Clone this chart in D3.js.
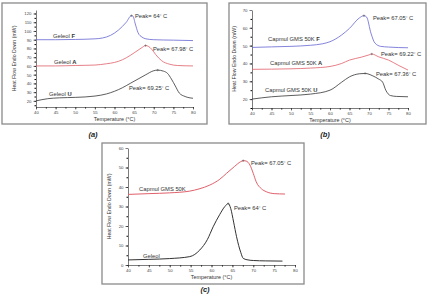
<!DOCTYPE html>
<html>
<head>
<meta charset="utf-8">
<script src="https://cdn.jsdelivr.net/npm/d3@7"></script>
<style>
  body { margin: 0; background: #fff; }
  text { font-family: "Liberation Sans", Arial, sans-serif; fill: #333; }
</style>
</head>
<body>
<script>
// ---- data ----
// panel (a): Geleol
var geleolF_t = [40, 45, 50, 55, 57, 59, 61, 63, 64.3, 64.7, 65.3, 66, 67, 68, 70, 75, 80];
var geleolF_v = [90, 90, 90.3, 91, 92, 95, 101, 110, 117.5, 117, 108, 98, 93, 91, 90, 89.5, 89];
var geleolA_t = [40, 45, 50, 55, 58, 60, 62, 64, 66, 67, 67.9, 68.6, 69.5, 70.5, 72, 74, 76, 80];
var geleolA_v = [60, 60, 60.5, 61, 62.5, 64, 67, 72, 78, 81, 83.3, 82.5, 79, 73, 66, 62, 60.5, 60];
var geleolU_t = [40, 43, 46, 50, 55, 58, 60, 62, 64, 66, 68, 70, 71, 72.5, 73.5, 74.5, 75.5, 76.5, 78, 80];
var geleolU_v = [20, 22.5, 23.5, 24, 25.5, 28, 31, 35, 40, 45, 50, 54.5, 55.2, 54, 51.5, 45, 37, 29, 25, 23];

// panel (b): Capmul GMS 50K
var capF_t = [40, 45, 50, 55, 58, 60, 63, 65, 67.5, 68.7, 69.4, 70.5, 71.5, 73, 75, 80];
var capF_v = [49, 49.3, 49.6, 50.2, 51, 52.2, 56, 59.7, 65.5, 66.8, 66, 57, 51.5, 49.6, 49.2, 48.8];
var capA_t = [40, 45, 50, 55, 60, 63, 65, 68, 70, 70.7, 72.5, 75, 77.5, 80];
var capA_v = [36.7, 36.8, 37, 37.4, 38.3, 40, 41.9, 43.5, 44.8, 45.3, 43.7, 41.9, 39, 36.3];
var capU_t = [40, 45, 50, 55, 60, 63, 65, 67.5, 69, 71, 72.5, 73.5, 74.3, 75.5, 77, 80];
var capU_v = [20, 21.3, 22, 22.8, 25, 29.5, 32.5, 34.2, 34.4, 33, 31.2, 29.5, 25, 22, 21.5, 21.3];

// panel (c): comparison
var cmpCap_t = [40, 45, 50, 54.8, 57, 59.6, 62, 63.6, 65.5, 67, 67.6, 68.3, 69.2, 70, 70.7, 72, 73.1, 75, 77.6];
var cmpCap_v = [36.2, 36.6, 37, 37.9, 39, 41, 44, 47, 50.5, 53, 53.5, 53.3, 51.3, 47, 42.7, 39, 37.6, 36.6, 36.4];
var cmpGel_t = [40, 45, 50, 54.8, 57.2, 59, 60.4, 62, 63.2, 64, 64.6, 65.3, 66, 67, 67.6, 68.5, 70, 73, 77];
var cmpGel_v = [2.6, 2.9, 3.3, 4.3, 7.7, 13, 19.6, 26, 30, 31.5, 29, 22, 14.5, 6.5, 3.4, 2.7, 2.3, 2.1, 2];

var xTicks = [40, 45, 50, 55, 60, 65, 70, 75, 80];
var yTicksA = [20, 30, 40, 50, 60, 70, 80, 90, 100, 110, 120];
var yTicksB = [20, 30, 40, 50, 60, 70];
var yTicksC = [0, 10, 20, 30, 40, 50, 60];

var BLUE = "#6464d2", RED = "#e0606a", BLACK = "#333";

var svg = d3.select("body").append("svg")
  .attr("width", 428).attr("height", 294);

function zip(t, v) {
  return t.map(function (d, i) { return [d, v[i]]; });
}

function drawPanel(p) {
  // grey outer frame
  svg.append("rect")
    .attr("x", p.frame[0]).attr("y", p.frame[1])
    .attr("width", p.frame[2]).attr("height", p.frame[3])
    .attr("fill", "#fff").attr("stroke", "#8a8a8a").attr("stroke-width", 1.3);

  var x = d3.scaleLinear().domain([40, 80]).range(p.xr);
  var y = d3.scaleLinear().domain(p.yd).range(p.yr);

  var g = svg.append("g");

  // minor ticks
  g.append("g").attr("transform", "translate(0," + p.yr[0] + ")")
    .call(d3.axisBottom(x).tickValues(d3.range(40, 80.1, 2.5)).tickSize(1.5).tickFormat(""))
    .call(function (s) { s.select(".domain").remove(); });
  g.append("g").attr("transform", "translate(" + p.xr[0] + ",0)")
    .call(d3.axisLeft(y).tickValues(p.yMinor).tickSize(1.5).tickFormat(""))
    .call(function (s) { s.select(".domain").remove(); });

  var xa = g.append("g").attr("transform", "translate(0," + p.yr[0] + ")")
    .call(d3.axisBottom(x).tickValues(xTicks).tickSize(2.5).tickPadding(1.2).tickSizeOuter(0));
  var ya = g.append("g").attr("transform", "translate(" + p.xr[0] + ",0)")
    .call(d3.axisLeft(y).tickValues(p.yTicks).tickSize(2.5).tickPadding(2).tickSizeOuter(0));
  [xa, ya].forEach(function (a) {
    a.selectAll("path, line").attr("stroke", "#444").attr("stroke-width", 0.7);
    a.selectAll("text").attr("font-size", 4.3).style("fill", "#444");
  });

  g.append("text")
    .attr("x", (p.xr[0] + p.xr[1]) / 2).attr("y", p.yr[0] + 14)
    .attr("text-anchor", "middle").attr("font-size", 5.4)
    .text("Temperature (°C)");
  g.append("text")
    .attr("transform", "translate(" + p.ylabX + "," + (p.yr[0] + p.yr[1]) / 2 + ") rotate(-90)")
    .attr("text-anchor", "middle").attr("font-size", 5.2)
    .text("Heat Flow Endo Down (mW)");

  var line = d3.line()
    .x(function (d) { return x(d[0]); })
    .y(function (d) { return y(d[1]); })
    .curve(d3.curveMonotoneX);

  p.series.forEach(function (s) {
    var pts = zip(s.t, s.v);
    g.append("path").datum(pts)
      .attr("d", line).attr("fill", "none")
      .attr("stroke", s.color).attr("stroke-width", p.lw || 0.8);

    // peak marker
    var pk = pts.reduce(function (a, b) { return b[1] > a[1] ? b : a; });
    g.append("path")
      .attr("d", "M" + (x(pk[0]) - 1.2) + "," + y(pk[1]) + "h2.4M" + x(pk[0]) + "," + (y(pk[1]) - 1.2) + "v2.4")
      .attr("stroke", "#555").attr("stroke-width", 0.5);

    var lab = g.append("text")
      .attr("x", s.lab[0]).attr("y", s.lab[1]).attr("font-size", 5.8);
    lab.append("tspan").text(s.name);
    if (s.bold) lab.append("tspan").attr("font-weight", "bold").text(" " + s.bold);

    var pl = g.append("text")
      .attr("x", s.peakLab[0]).attr("y", s.peakLab[1]).attr("font-size", 5.8);
    pl.append("tspan").text("Peak= " + s.peak);
    pl.append("tspan").attr("dy", -1.5).attr("font-size", 4.2).text("°");
    pl.append("tspan").attr("dy", 1.5).text(" C");
  });

  svg.append("text")
    .attr("x", p.cap[0]).attr("y", p.cap[1])
    .attr("text-anchor", "middle").attr("font-size", 7.5)
    .attr("font-weight", "bold").attr("font-style", "italic")
    .style("fill", "#222")
    .text(p.capText);
}

drawPanel({
  frame: [2, 3, 205, 121], xr: [36, 193], yd: [13, 124], yr: [107, 10],
  yTicks: yTicksA, yMinor: d3.range(15, 124, 5), ylabX: 16,
  cap: [93, 137], capText: "(a)",
  series: [
    { t: geleolF_t, v: geleolF_v, color: BLUE, name: "Geleol", bold: "F", lab: [53, 38], peak: "64", peakLab: [135, 18] },
    { t: geleolA_t, v: geleolA_v, color: RED, name: "Geleol", bold: "A", lab: [54, 64], peak: "67.98", peakLab: [153, 51] },
    { t: geleolU_t, v: geleolU_v, color: BLACK, name: "Geleol", bold: "U", lab: [49, 96], peak: "69.25", peakLab: [129, 90] }
  ]
});

drawPanel({
  frame: [229, 3, 197, 121], xr: [252, 408], yd: [15, 70], yr: [108, 10],
  yTicks: yTicksB, yMinor: d3.range(15, 70, 5), ylabX: 236,
  cap: [325, 137], capText: "(b)",
  series: [
    { t: capF_t, v: capF_v, color: BLUE, name: "Capmul GMS 50K", bold: "F", lab: [268, 41], peak: "67.05", peakLab: [373, 20] },
    { t: capA_t, v: capA_v, color: RED, name: "Capmul GMS 50K", bold: "A", lab: [270, 65], peak: "69.22", peakLab: [381, 56] },
    { t: capU_t, v: capU_v, color: BLACK, name: "Capmul GMS 50K", bold: "U", lab: [265, 92], peak: "67.36", peakLab: [376, 76] }
  ]
});

drawPanel({
  frame: [102, 143, 202, 141], xr: [128, 295], yd: [0, 60], yr: [265, 148],
  yTicks: yTicksC, yMinor: d3.range(0, 60, 5), ylabX: 111, lw: 1,
  cap: [205, 292], capText: "(c)",
  series: [
    { t: cmpCap_t, v: cmpCap_v, color: RED, name: "Capmul GMS 50K", lab: [139, 191], peak: "67.05", peakLab: [251, 165] },
    { t: cmpGel_t, v: cmpGel_v, color: BLACK, name: "Geleol", lab: [143, 258], peak: "64", peakLab: [234, 210] }
  ]
});
</script>
</body>
</html>
